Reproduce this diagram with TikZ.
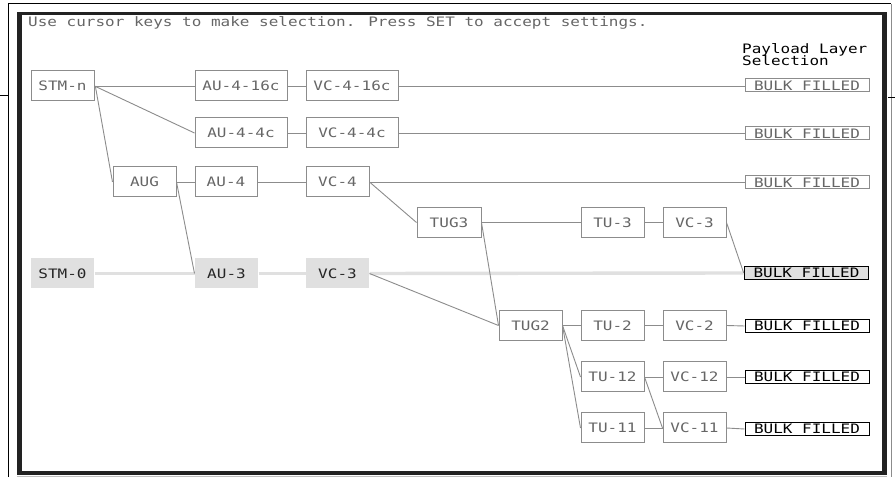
\documentclass[tikz,border=0pt]{standalone}
\usepackage{fontspec}
\newfontfamily\pixfont[FakeStretch=1.23]{DejaVu Sans Mono}
\definecolor{boxgray}{HTML}{8C8C8C}
\definecolor{txtgray}{HTML}{666666}
\definecolor{selgray}{HTML}{E0E0E0}
\definecolor{framecol}{HTML}{222222}
\begin{document}
\begin{tikzpicture}[x=1pt,y=-1pt,
  pix/.style={font=\pixfont\fontsize{13}{14}\selectfont},
  box/.style={pix, draw=boxgray, line width=1pt, fill=white, text=txtgray,
    minimum width=63pt, minimum height=30pt, inner sep=0pt, text height=9.3pt, text depth=0pt},
  wide/.style={box, minimum width=92pt},
  gbox/.style={box, draw=none, fill=selgray, text=black!85},
  bulk/.style={box, minimum width=124pt, minimum height=13pt},
  bulkon/.style={bulk, draw=black, text=black},
  bulksel/.style={bulk, draw=black, line width=1.6pt, fill=selgray, text=black},
  conn/.style={draw=boxgray, line width=0.9pt},
  selline/.style={draw=selgray, line width=3.4pt}]
\useasboundingbox (0,0) rectangle (895,478);
% frames
\fill[white] (0,0) rectangle (895,478);
\draw[black, line width=1pt] (8,477) -- (8,4) -- (891,4);
\draw[black!45, line width=1pt] (891.5,4) -- (891.5,477);
\draw[black, line width=0.8pt] (0,95) -- (8,95);
\draw[black, line width=0.8pt] (888,97) -- (895,97);
\fill[framecol] (17,12) rectangle (887,475);
\fill[white] (22,15) rectangle (882,471);
\draw[black!25, line width=0.8pt] (17,476) -- (887,476);
% texts
\node[pix, text=txtgray, anchor=base west, inner sep=0pt] (instr) at (28,26.5)
  {Use cursor keys to make selection. Press SET to accept settings.};
\node[pix, text=black, anchor=base west, inner sep=0pt] (pl1) at (742,53.3) {Payload Layer};
\node[pix, text=black, anchor=base west, inner sep=0pt] (pl2) at (742,65.3) {Selection};
% nodes
\node[box]  (stmn)  at (62.5,86)  {STM-n};
\node[wide] (au416) at (241,86)   {AU-4-16c};
\node[wide] (vc416) at (352,86)   {VC-4-16c};
\node[bulk] (b1)    at (807,85.5) {BULK FILLED};
\node[wide] (au44)  at (241,133)  {AU-4-4c};
\node[wide] (vc44)  at (352,133)  {VC-4-4c};
\node[bulk] (b2)    at (807,133.5){BULK FILLED};
\node[box]  (aug)   at (144.5,182){AUG};
\node[box, minimum width=62pt] (au4) at (226,182) {AU-4};
\node[box]  (vc4)   at (337.5,182){VC-4};
\node[bulk] (b3)    at (807,182.5){BULK FILLED};
\node[box, minimum width=64pt] (tug3) at (449,222.5) {TUG3};
\node[box]  (tu3)   at (612.5,222.5) {TU-3};
\node[box]  (vc3)   at (694.5,222.5) {VC-3};
\node[gbox] (stm0)  at (62.5,273.5) {STM-0};
\node[gbox] (au3)   at (226.5,273.5){AU-3};
\node[gbox] (vc3g)  at (337.5,273.5){VC-3};
\node[bulksel] (bs) at (806.5,273)  {BULK FILLED};
\node[box]  (tug2)  at (530.5,325.5){TUG2};
\node[box]  (tu2)   at (612.5,325.5){TU-2};
\node[box]  (vc2)   at (694.5,325.5){VC-2};
\node[bulkon] (b5)  at (807,326)    {BULK FILLED};
\node[box]  (tu12)  at (612.5,377)  {TU-12};
\node[box]  (vc12)  at (694.5,377)  {VC-12};
\node[bulkon] (b6)  at (807,377)    {BULK FILLED};
\node[box]  (tu11)  at (612.5,428)  {TU-11};
\node[box]  (vc11)  at (694.5,428)  {VC-11};
\node[bulkon] (b7)  at (807,429)    {BULK FILLED};
% selected path
\draw[selline] (stm0.east) -- (au3.west);
\draw[selline] (au3.east) -- (vc3g.west);
\draw[selline] (vc3g.east) -- (bs.west);
% connectors
\draw[conn] (stmn.east) -- (au416.west);
\draw[conn] (au416.east) -- (vc416.west);
\draw[conn] (vc416.east) -- (vc416.east -| b1.west);
\draw[conn] (stmn.east) -- (au44.west);
\draw[conn] (au44.east) -- (vc44.west);
\draw[conn] (vc44.east) -- (vc44.east -| b2.west);
\draw[conn] (stmn.east) ++(1,1) -- (aug.west);
\draw[conn] (aug.east) -- (au4.west);
\draw[conn] (au4.east) -- (vc4.west);
\draw[conn] (vc4.east) -- (vc4.east -| b3.west);
\draw[conn] (aug.east) -- (au3.west);
\draw[conn] (vc4.east) -- (tug3.west);
\draw[conn] (tug3.east) -- (tu3.west);
\draw[conn] (tu3.east) -- (vc3.west);
\draw[conn] (vc3.east) -- (bs.west);
\draw[conn] (tug3.east) -- (tug2.west);
\draw[conn] (vc3g.east) -- (tug2.west);
\draw[conn] (tug2.east) -- (tu2.west);
\draw[conn] (tu2.east) -- (vc2.west);
\draw[conn] (vc2.east) -- (b5.west);
\draw[conn] (tug2.east) -- (tu12.west);
\draw[conn] (tug2.east) -- (tu11.west);
\draw[conn] (tu12.east) -- (vc12.west);
\draw[conn] (vc12.east) -- (b6.west);
\draw[conn] (tu12.east) -- (vc11.west);
\draw[conn] (tu11.east) -- (vc11.west);
\draw[conn] (vc11.east) -- (b7.west);
\end{tikzpicture}
\end{document}
